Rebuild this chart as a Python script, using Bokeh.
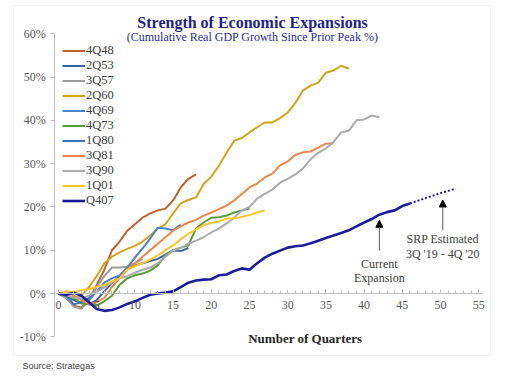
from bokeh.plotting import figure
from bokeh.models import (Range1d, SingleIntervalTicker, PrintfTickFormatter, Label,
                          Arrow, NormalHead, BoxAnnotation, Legend)
from bokeh.embed import file_html
from bokeh.resources import INLINE

# ---- data (cumulative real GDP growth since prior peak, %) ----
q4_48 = [0, -1.0, -2.8, -3.3, -1.5, 2.0, 5.5, 10.0, 12.0, 14.5, 16.0, 17.5, 18.5, 19.2, 19.6, 21.5, 24.5, 26.5, 27.5]
q2_53 = [0, -0.5, -1.5, -2.2, -2.5, -1.5, 0.5, 2.5, 4.0, 5.5, 6.5, 7.0, 7.5, 8.0, 9.0, 10.0, 9.8, 10.5]
q3_57 = [0, -1.0, -3.0, -3.5, -1.5, 1.5, 4.0, 6.0, 6.0, 6.2, 7.0, 8.0]
q2_60 = [0, -0.5, -1.0, -0.5, 1.5, 4.0, 7.0, 8.5, 9.5, 10.3, 11.0, 12.0, 13.4, 15.0, 16.0, 18.5, 20.8,
         21.6, 22.2, 25.3, 27.0, 29.5, 32.5, 35.3, 35.9, 37.2, 38.4, 39.5, 39.5, 40.5, 41.8, 44.0,
         46.9, 48.0, 48.7, 51.0, 51.5, 52.6, 51.9]
q4_69 = [0, -0.5, -1.0, -1.2, -1.5, 0.5, 2.5, 3.5, 4.2, 6.0, 8.3, 10.4, 12.7, 15.2, 15.0, 14.6, 15.9]
q4_73 = [0, -0.5, -1.0, -2.3, -2.5, -2.8, -1.8, -0.5, 2.0, 3.5, 4.2, 4.6, 5.3, 6.5, 8.8, 9.9, 10.6,
         11.1, 15.0, 16.4, 17.5, 17.6, 18.0, 18.7, 19.2, 19.6]
q1_80 = [0, -0.5, -2.5, -2.0, -1.0, 0.5, 1.5]
q3_81 = [0, 0.5, -0.5, -1.5, -2.5, -2.0, -1.0, 1.5, 3.5, 5.5, 7.0, 8.5, 10.0, 11.5, 13.0, 14.5, 15.5,
         16.4, 17.0, 18.0, 18.7, 19.5, 20.3, 21.5, 23.0, 24.5, 25.4, 26.8, 27.7, 29.6, 30.5, 32.0,
         32.6, 32.8, 33.7, 34.6, 34.7]
q3_90 = [0, -0.3, -1.0, -1.2, -0.5, 0.5, 1.5, 2.5, 3.5, 4.0, 4.8, 5.5, 6.0, 7.0, 8.5, 10.0, 10.5,
         11.5, 12.2, 13.0, 14.1, 15.0, 16.2, 17.5, 19.2, 20.0, 21.9, 23.0, 24.0, 25.6, 26.5, 27.5,
         28.9, 31.0, 32.5, 33.5, 35.0, 37.2, 37.6, 40.0, 40.2, 41.1, 40.7]
q1_01 = [0, 0.5, 0.3, 0.8, 1.0, 1.5, 2.0, 2.8, 3.5, 5.5, 6.3, 7.0, 7.8, 8.8, 10.0, 11.1, 12.5, 13.8,
         14.8, 15.8, 16.3, 16.6, 17.3, 17.3, 17.7, 18.1, 18.7, 19.2]
q4_07 = [0, -0.3, 0.2, -0.5, -2.0, -3.6, -4.0, -3.8, -3.2, -2.4, -1.8, -1.0, -0.3, 0.0, 0.2, 0.5,
         1.5, 2.5, 3.0, 3.2, 3.3, 4.2, 4.4, 5.2, 5.8, 5.5, 7.0, 8.3, 9.2, 9.9, 10.6, 10.9, 11.1,
         11.6, 12.2, 12.8, 13.4, 14.0, 14.6, 15.5, 16.4, 17.2, 18.2, 18.8, 19.2, 20.2, 20.8]
est_start = 46
estimate = [20.8, 21.4, 22.0, 22.6, 23.2, 23.7, 24.2]

series = [
    ("4Q48", q4_48, "#C0612E"),
    ("2Q53", q2_53, "#3D63A6"),
    ("3Q57", q3_57, "#9B9B9B"),
    ("2Q60", q2_60, "#D2A41C"),
    ("4Q69", q4_69, "#4A84C6"),
    ("4Q73", q4_73, "#5A9A3C"),
    ("1Q80", q1_80, "#4070B8"),
    ("3Q81", q3_81, "#EE8649"),
    ("3Q90", q3_90, "#ABABAB"),
    ("1Q01", q1_01, "#FFC526"),
    ("Q407", q4_07, "#1C1C9A"),
]

SERIF = "Liberation Serif"

p = figure(width=505, height=372, output_backend="svg", toolbar_location=None,
           x_range=Range1d(-7.592, 58.51), y_range=Range1d(-18.24, 67.67),
           min_border_left=0, min_border_right=0, min_border_top=0, min_border_bottom=0)
p.outline_line_color = None
p.grid.grid_line_color = None
p.background_fill_color = "white"
p.border_fill_color = "white"

items = []
for name, vals, col in series:
    lw = 2.6 if name == "Q407" else 2
    r = p.line(list(range(len(vals))), vals, line_color=col, line_width=lw)
    items.append((name, [r]))

p.line(list(range(est_start, est_start + len(estimate))), estimate,
       line_color="#1C1C9A", line_width=2, line_dash="2 2")

legend = Legend(items=items, location=(62, 164), margin=0, padding=0, spacing=0,
                glyph_width=23, glyph_height=15, label_height=15, label_standoff=1,
                label_text_font=SERIF, label_text_font_size="12.5px",
                label_text_color="#404040", border_line_color=None,
                background_fill_alpha=0)
p.add_layout(legend)

# axes
xa = p.xaxis[0]
xa.fixed_location = 0
xa.bounds = (-0.5, 55.4)
xa.ticker = SingleIntervalTicker(interval=5, num_minor_ticks=5)
xa.axis_line_color = "#BFBFBF"
xa.major_tick_line_color = "#BFBFBF"
xa.minor_tick_line_color = "#BFBFBF"
xa.major_tick_in = 4
xa.major_tick_out = 0
xa.minor_tick_in = 3
xa.minor_tick_out = 0
xa.major_label_standoff = 7
xa.major_label_text_font = SERIF
xa.major_label_text_font_size = "12px"
xa.major_label_text_color = "#595959"

ya = p.yaxis[0]
ya.fixed_location = -0.5
ya.bounds = (-10, 60)
ya.ticker = SingleIntervalTicker(interval=10)
ya.formatter = PrintfTickFormatter(format="%d%%")
ya.axis_line_color = "#BFBFBF"
ya.major_tick_line_color = "#BFBFBF"
ya.major_tick_in = 0
ya.major_tick_out = 4
ya.minor_tick_line_color = None
ya.major_label_standoff = 5
ya.major_label_text_font = SERIF
ya.major_label_text_font_size = "12px"
ya.major_label_text_color = "#595959"

# frame box
p.add_layout(BoxAnnotation(left=-5.89, right=56.54, top=66.5, bottom=-14.32,
                           fill_alpha=0, line_color="#D9D9D9", line_width=1))

# titles
p.add_layout(Label(x=25.4, y=62.6, text="Strength of Economic Expansions", text_align="center",
                   text_baseline="middle", text_font=SERIF, text_font_size="16px",
                   text_font_style="bold", text_color="#1F1F8C"))
p.add_layout(Label(x=25.4, y=59.2, text="(Cumulative Real GDP Growth Since Prior Peak %)",
                   text_align="center", text_baseline="middle", text_font=SERIF,
                   text_font_size="12px", text_color="#2B2B9C"))
p.add_layout(Label(x=32.3, y=-10.5, text="Number of Quarters", text_align="center",
                   text_baseline="middle", text_font=SERIF, text_font_size="13px",
                   text_font_style="bold", text_color="#262626"))

# annotations
ann = dict(text_align="center", text_baseline="middle", text_font=SERIF,
           text_font_size="12px", text_color="#404040")
p.add_layout(Label(x=42, y=6.9, text="Current", **ann))
p.add_layout(Label(x=42, y=3.5, text="Expansion", **ann))
p.add_layout(Label(x=50.3, y=12.5, text="SRP Estimated", **ann))
p.add_layout(Label(x=50.3, y=9.2, text="3Q '19 - 4Q '20", **ann))
p.add_layout(Arrow(end=NormalHead(size=7, fill_color="black", line_color="black"),
                   x_start=42, y_start=9.9, x_end=42, y_end=16.9,
                   line_color="#595959", line_width=1))
p.add_layout(Arrow(end=NormalHead(size=7, fill_color="black", line_color="black"),
                   x_start=50.3, y_start=14.6, x_end=50.3, y_end=21.6,
                   line_color="#595959", line_width=1))

p.add_layout(Label(x=-4.7, y=-16.7, text="Source: Strategas", text_align="left",
                   text_baseline="middle", text_font="Liberation Sans",
                   text_font_size="9px", text_color="#404040"))

open("out.html", "w").write(file_html(p, INLINE))
